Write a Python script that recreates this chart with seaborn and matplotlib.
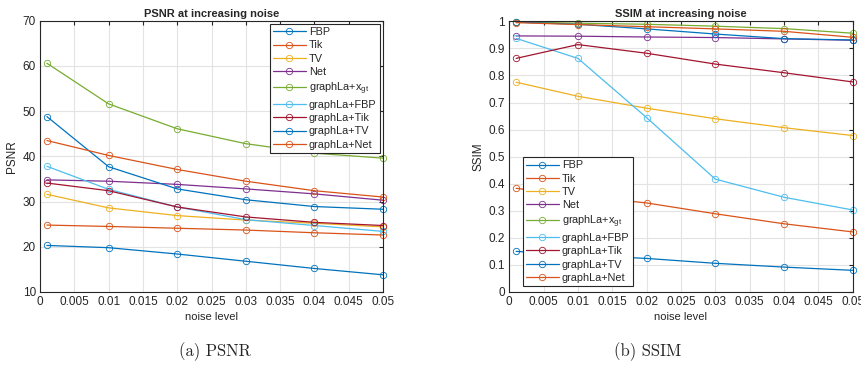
import seaborn as sns
import pandas as pd
import numpy as np
import matplotlib.pyplot as plt

noise = [0.001, 0.01, 0.02, 0.03, 0.04, 0.05]
methods = ['FBP', 'Tik', 'TV', 'Net', r'graphLa+x$_{\mathrm{gt}}$',
           'graphLa+FBP', 'graphLa+Tik', 'graphLa+TV', 'graphLa+Net']
colors = ['#0072BD', '#D95319', '#EDB120', '#7E2F8E', '#77AC30',
          '#4DBEEE', '#A2142F', '#0072BD', '#D95319']

psnr_fbp = [20.3, 19.8, 18.4, 16.8, 15.2, 13.8]
psnr_tik = [24.8, 24.5, 24.1, 23.7, 23.1, 22.6]
psnr_tv = [31.6, 28.6, 26.9, 25.9, 25.2, 24.4]
psnr_net = [34.8, 34.5, 33.8, 32.8, 31.7, 30.3]
psnr_gl_xgt = [60.6, 51.6, 46.1, 42.8, 40.7, 39.6]
psnr_gl_fbp = [37.8, 32.7, 28.8, 26.0, 24.7, 23.4]
psnr_gl_tik = [34.1, 32.4, 28.8, 26.6, 25.4, 24.7]
psnr_gl_tv = [48.8, 37.7, 32.8, 30.4, 28.9, 28.3]
psnr_gl_net = [43.5, 40.2, 37.1, 34.5, 32.4, 31.0]

ssim_fbp = [0.150, 0.136, 0.124, 0.106, 0.092, 0.080]
ssim_tik = [0.383, 0.355, 0.329, 0.289, 0.252, 0.222]
ssim_tv = [0.775, 0.723, 0.679, 0.640, 0.607, 0.578]
ssim_net = [0.946, 0.945, 0.942, 0.940, 0.935, 0.930]
ssim_gl_xgt = [0.998, 0.993, 0.989, 0.982, 0.973, 0.956]
ssim_gl_fbp = [0.937, 0.863, 0.644, 0.417, 0.350, 0.303]
ssim_gl_tik = [0.863, 0.914, 0.882, 0.842, 0.810, 0.776]
ssim_gl_tv = [0.997, 0.989, 0.972, 0.953, 0.936, 0.931]
ssim_gl_net = [0.995, 0.988, 0.980, 0.972, 0.963, 0.941]

psnr = [psnr_fbp, psnr_tik, psnr_tv, psnr_net, psnr_gl_xgt,
        psnr_gl_fbp, psnr_gl_tik, psnr_gl_tv, psnr_gl_net]
ssim = [ssim_fbp, ssim_tik, ssim_tv, ssim_net, ssim_gl_xgt,
        ssim_gl_fbp, ssim_gl_tik, ssim_gl_tv, ssim_gl_net]

xticks = np.arange(0, 0.0501, 0.005)
xticklabels = ['0', '0.005', '0.01', '0.015', '0.02', '0.025',
               '0.03', '0.035', '0.04', '0.045', '0.05']

sns.set_style('whitegrid')
plt.rcParams['font.family'] = ['Liberation Sans', 'DejaVu Sans']
plt.rcParams['mathtext.fontset'] = 'custom'
plt.rcParams['mathtext.rm'] = 'Liberation Sans'

fig = plt.figure(figsize=(8.61, 3.66), dpi=100)
ax1 = fig.add_axes([0.0465, 0.2022, 0.3984, 0.7412])
ax2 = fig.add_axes([0.5915, 0.2022, 0.3988, 0.7396])


def draw(ax, vals, title, ylabel, ylim, yticks, yticklabels):
    rows = []
    for m, v in zip(methods, vals):
        for x, y in zip(noise, v):
            rows.append({'noise': x, 'val': y, 'method': m})
    df = pd.DataFrame(rows)
    sns.lineplot(data=df, x='noise', y='val', hue='method', hue_order=methods,
                 palette=colors, marker='o', markersize=4.6, mfc='none',
                 linewidth=0.9, legend=False, ax=ax, errorbar=None)
    for ln in ax.lines:
        ln.set_markeredgecolor(ln.get_color())
        ln.set_markeredgewidth(0.6)
        ln.set_clip_on(False)
    ax.set_xlim(0, 0.05)
    ax.set_ylim(*ylim)
    ax.set_xticks(xticks)
    ax.set_xticklabels(xticklabels)
    ax.set_yticks(yticks)
    ax.set_yticklabels(yticklabels)
    ax.set_title(title, fontsize=8, fontweight='bold', pad=3)
    ax.set_xlabel('noise level', fontsize=8, labelpad=3)
    ax.set_ylabel(ylabel, fontsize=8.5, labelpad=3)
    ax.tick_params(direction='in', labelsize=8.5, length=3, colors='#262626',
                   top=True, right=True, pad=3)
    ax.grid(True, color='#e3e3e3', linewidth=0.8)
    for s in ax.spines.values():
        s.set_color('#262626')
        s.set_linewidth(0.8)
    return ax.lines[:len(methods)]


h1 = draw(ax1, psnr, 'PSNR at increasing noise', 'PSNR', (10, 70),
          range(10, 71, 10), [str(v) for v in range(10, 71, 10)])
h2 = draw(ax2, ssim, 'SSIM at increasing noise', 'SSIM', (0, 1),
          np.arange(0, 1.01, 0.1), ['0'] + ['0.%d' % i for i in range(1, 10)] + ['1'])

leg_kw = dict(fontsize=7.8, frameon=True, fancybox=False, framealpha=1,
              edgecolor='#262626', handlelength=3.0, borderpad=0.3,
              labelspacing=0.3, handletextpad=0.3, borderaxespad=0.3)
l1 = ax1.legend(h1, methods, loc='upper right', **leg_kw)
l2 = ax2.legend(h2, methods, loc='lower left', bbox_to_anchor=(0.03, 0.01), **leg_kw)
for lg in (l1, l2):
    lg.get_frame().set_linewidth(0.8)

fig.text(0.2497, 0.038, '(a) PSNR', ha='center', va='center', fontsize=12,
         family=['cmr10', 'Liberation Serif'])
fig.text(0.7526, 0.038, '(b) SSIM', ha='center', va='center', fontsize=12,
         family=['cmr10', 'Liberation Serif'])

fig.savefig('out.png', dpi=100)
